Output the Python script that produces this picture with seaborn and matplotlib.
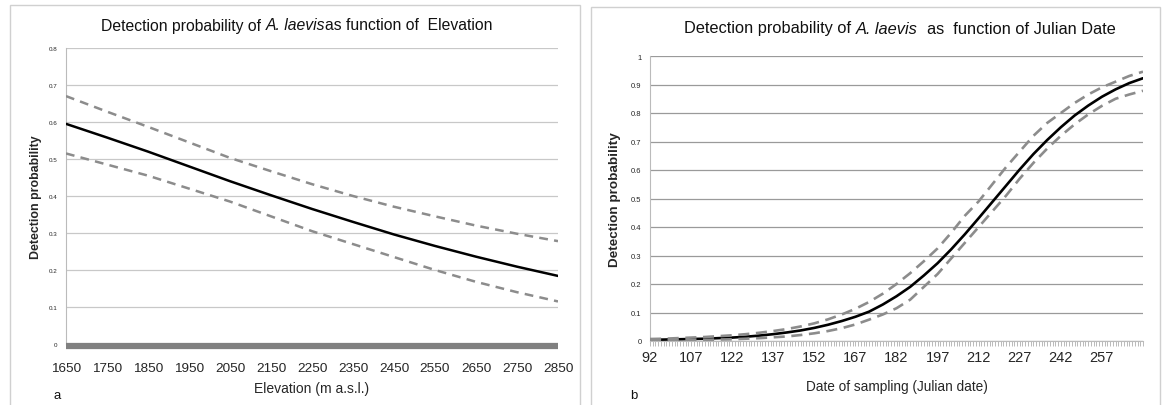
"""Detection probability of A. laevis vs elevation and Julian date."""

import matplotlib

matplotlib.use("Agg")
import matplotlib.pyplot as plt
import numpy as np
import pandas as pd
import seaborn as sns
from matplotlib.patches import Rectangle
from matplotlib.ticker import MultipleLocator

# panel a: elevation
elevation = [1650, 1750, 1850, 1950, 2050, 2150, 2250, 2350, 2450, 2550, 2650, 2750, 2850]
elev_est = [0.595, 0.558, 0.520, 0.480, 0.440, 0.402, 0.365, 0.330, 0.296, 0.265, 0.236, 0.209, 0.184]
elev_upper = [0.670, 0.628, 0.587, 0.545, 0.503, 0.467, 0.432, 0.400, 0.371, 0.345, 0.320, 0.298, 0.278]
elev_lower = [0.515, 0.485, 0.455, 0.420, 0.385, 0.345, 0.305, 0.270, 0.235, 0.200, 0.168, 0.140, 0.115]

# panel b: Julian date
julian = [92, 97, 102, 107, 112, 117, 122, 127, 132, 137, 142, 147, 152, 157, 162, 167, 172, 177,
          182, 187, 192, 197, 202, 207, 212, 217, 222, 227, 232, 237, 242, 247, 252, 257, 262, 267, 272]
jd_est = [0.004, 0.005, 0.006, 0.007, 0.008, 0.010, 0.012, 0.015, 0.019, 0.024, 0.030, 0.037, 0.046,
          0.057, 0.070, 0.085, 0.103, 0.128, 0.157, 0.190, 0.230, 0.273, 0.322, 0.375, 0.431, 0.488,
          0.545, 0.602, 0.656, 0.705, 0.750, 0.791, 0.826, 0.857, 0.883, 0.905, 0.922]
jd_upper = [0.007, 0.008, 0.010, 0.012, 0.014, 0.017, 0.020, 0.024, 0.029, 0.035, 0.042, 0.051, 0.062,
            0.076, 0.093, 0.113, 0.137, 0.166, 0.200, 0.238, 0.280, 0.325, 0.380, 0.440, 0.490, 0.550,
            0.610, 0.665, 0.720, 0.765, 0.800, 0.835, 0.865, 0.890, 0.910, 0.930, 0.945]
jd_lower = [0.002, 0.002, 0.003, 0.003, 0.004, 0.005, 0.006, 0.008, 0.010, 0.013, 0.016, 0.021, 0.027,
            0.035, 0.045, 0.058, 0.075, 0.093, 0.115, 0.145, 0.190, 0.235, 0.290, 0.345, 0.400, 0.455,
            0.510, 0.570, 0.625, 0.675, 0.720, 0.760, 0.795, 0.825, 0.850, 0.865, 0.878]
jd_labels = [92, 107, 122, 137, 152, 167, 182, 197, 212, 227, 242, 257]

sns.set_style("white")
plt.rcParams["font.family"] = ["Liberation Sans", "DejaVu Sans"]
plt.rcParams["text.color"] = "#111111"

W, H = 1166, 406
fig = plt.figure(figsize=(W / 100, H / 100), dpi=100)


def px_rect(x0, y0, x1, y1):
    return [x0 / W, 1 - y1 / H, (x1 - x0) / W, (y1 - y0) / H]


def long_df(x, est, upper, lower):
    frames = []
    for name, vals in (("est", est), ("upper", upper), ("lower", lower)):
        frames.append(pd.DataFrame({"x": x, "p": vals, "series": name}))
    return pd.concat(frames, ignore_index=True)


def chained_title(ax, x_px, y_px, pieces, size):
    """Title made of plain/italic pieces, each placed right after the previous one."""
    anchor = fig.text(x_px / W, 1 - y_px / H, pieces[0][0], ha="left", va="center",
                      fontsize=size, style=pieces[0][1])
    for text, style in pieces[1:]:
        anchor = ax.annotate(text, xy=(1, 0.5), xycoords=anchor, ha="left", va="center",
                             fontsize=size, style=style, annotation_clip=False)


# panel frames
for x0, y0, x1 in ((10, 6, 580), (591, 8, 1160)):
    fig.patches.append(Rectangle((x0 / W, -0.01), (x1 - x0) / W, 1 - y0 / H + 0.01,
                                 transform=fig.transFigure, fill=False,
                                 edgecolor="#D0D0D0", linewidth=1.0))

palette = {"est": "black", "upper": "#8C8C8C", "lower": "#8C8C8C"}

# ---- panel a ----
ax1 = fig.add_axes(px_rect(66, 49, 558, 345))
df_a = long_df(elevation, elev_est, elev_upper, elev_lower)
sns.lineplot(data=df_a, x="x", y="p", hue="series", style="series", palette=palette,
             dashes={"est": "", "upper": (3.5, 2.5), "lower": (3.5, 2.5)},
             linewidth=1.8, legend=False, ax=ax1, zorder=3)
ax1.set_xlim(elevation[0], elevation[-1])
ax1.set_ylim(0, 0.8)
ax1.set_yticks(np.arange(0, 0.81, 0.1))
ax1.set_yticklabels(["0", "0.1", "0.2", "0.3", "0.4", "0.5", "0.6", "0.7", "0.8"])
ax1.set_xticks(elevation)
ax1.set_xticklabels([str(v) for v in elevation])
ax1.grid(axis="y", color="#C8C8C8", linewidth=0.9)
ax1.axhline(-0.006, color="#808080", linewidth=4.5, zorder=4, clip_on=False,
            solid_capstyle="butt")
for side in ("top", "right", "bottom"):
    ax1.spines[side].set_visible(False)
ax1.spines["left"].set_color("#BBBBBB")
ax1.spines["left"].set_linewidth(0.8)
ax1.tick_params(axis="y", labelsize=4.5, length=3, color="#BBBBBB", pad=3)
ax1.tick_params(axis="x", labelsize=9.7, length=0, pad=13)
ax1.set_xlabel("Elevation (m a.s.l.)", fontsize=10, labelpad=5)
ax1.set_ylabel("Detection probability", fontsize=8.9, fontweight="bold", labelpad=5)
chained_title(ax1, 101, 26, [("Detection probability of ", "normal"), ("A. laevis", "italic"),
                             ("as function of  Elevation", "normal")], 11.3)
fig.text(57 / W, 1 - 396 / H, "a", ha="center", va="center", fontsize=9.5)

# ---- panel b ----
ax2 = fig.add_axes(px_rect(650, 57, 1143, 342))
df_b = long_df(julian, jd_est, jd_upper, jd_lower)
sns.lineplot(data=df_b, x="x", y="p", hue="series", style="series", palette=palette,
             dashes={"est": "", "upper": (4.2, 2.5), "lower": (4.2, 2.5)},
             linewidth=1.9, legend=False, ax=ax2, zorder=3)
ax2.set_xlim(julian[0], julian[-1])
ax2.set_ylim(0, 1)
ax2.set_yticks(np.arange(0, 1.01, 0.1))
ax2.set_yticklabels(["0", "0.1", "0.2", "0.3", "0.4", "0.5", "0.6", "0.7", "0.8", "0.9", "1"])
ax2.set_xticks(jd_labels)
ax2.set_xticklabels([str(v) for v in jd_labels])
ax2.xaxis.set_minor_locator(MultipleLocator(1))
ax2.grid(axis="y", color="#9A9A9A", linewidth=0.9)
for side in ("top", "right"):
    ax2.spines[side].set_visible(False)
for side in ("left", "bottom"):
    ax2.spines[side].set_color("#BBBBBB")
    ax2.spines[side].set_linewidth(0.8)
ax2.tick_params(axis="y", labelsize=5.5, length=3, color="#BBBBBB", pad=3)
ax2.tick_params(axis="x", which="both", direction="out", length=3.5, width=0.5,
                color="#A0A0A0", bottom=True)
ax2.tick_params(axis="x", labelsize=10.5, pad=3)
ax2.set_xlabel("Date of sampling (Julian date)", fontsize=9.8, labelpad=11)
ax2.set_ylabel("Detection probability", fontsize=9.7, fontweight="bold", labelpad=7)
chained_title(ax2, 684, 29, [("Detection probability of ", "normal"), ("A. laevis", "italic"),
                             ("  as  function of Julian Date", "normal")], 11.8)
fig.text(634 / W, 1 - 396 / H, "b", ha="center", va="center", fontsize=9.5)

fig.savefig("out.png", dpi=100)
plt.close(fig)
